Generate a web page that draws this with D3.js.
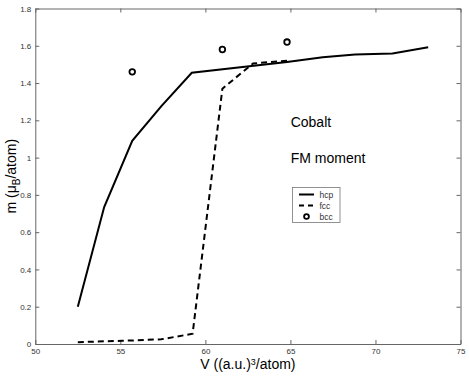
<!DOCTYPE html>
<html>
<head>
<meta charset="utf-8">
<script src="https://cdn.jsdelivr.net/npm/d3@7"></script>
<style>
  body { margin: 0; background: #fff; }
  text { font-family: "Liberation Sans", Arial, sans-serif; }
</style>
</head>
<body>
<div id="chart"></div>
<script>
/* DATA */
var hcpV = [52.5, 54.05, 55.7, 57.4, 59.2, 64.8, 66.9, 68.8, 71.0, 73.1];
var hcpM = [0.20, 0.735, 1.09, 1.275, 1.455, 1.513, 1.538, 1.553, 1.558, 1.592];

var fccV = [52.5, 55.1, 57.4, 59.25, 61.0, 62.8, 64.8];
var fccM = [0.01, 0.017, 0.025, 0.055, 1.37, 1.505, 1.52];

var bccV = [55.7, 61.0, 64.8];
var bccM = [1.46, 1.58, 1.62];

var xTicks = [50, 55, 60, 65, 70, 75];
var yTicks = [0, 0.2, 0.4, 0.6, 0.8, 1, 1.2, 1.4, 1.6, 1.8];

/* CONSTANTS */
var W = 469, H = 379;
var margin = {top: 8.5, left: 35.3, right: 8.5, bottom: 35};
var width = W - margin.left - margin.right,
    height = H - margin.top - margin.bottom;

var xScale = d3.scaleLinear().domain([50, 75]).range([0, width]);
var yScale = d3.scaleLinear().domain([0, 1.8]).range([height, 0]);

var svg = d3.select("#chart").append("svg")
  .attr("width", W)
  .attr("height", H);

var g = svg.append("g")
  .attr("transform", "translate(" + margin.left + "," + margin.top + ")");

var axisColor = "#666";

// axes (ticks pointing inward, like matlab)
var xAxis = g.append("g")
  .attr("transform", "translate(0," + height + ")")
  .call(d3.axisBottom(xScale).tickValues(xTicks).tickSizeInner(-4).tickSizeOuter(0).tickPadding(4));
var yAxis = g.append("g")
  .call(d3.axisLeft(yScale).tickValues(yTicks).tickSizeInner(-4).tickSizeOuter(0).tickPadding(4)
    .tickFormat(function(d) { return d3.format("~g")(d); }));
var xTop = g.append("g")
  .call(d3.axisTop(xScale).tickValues(xTicks).tickSizeInner(-4).tickSizeOuter(0).tickFormat(""));
var yRight = g.append("g")
  .attr("transform", "translate(" + width + ",0)")
  .call(d3.axisRight(yScale).tickValues(yTicks).tickSizeInner(-4).tickSizeOuter(0).tickFormat(""));

[xAxis, yAxis, xTop, yRight].forEach(function(a) {
  a.select(".domain").attr("stroke", axisColor).attr("stroke-width", 1);
  a.selectAll(".tick line").attr("stroke", axisColor);
  a.selectAll(".tick text").attr("fill", "#333").style("font-size", "8px")
    .style("font-family", "Liberation Sans, Arial, sans-serif");
});

// lines
var hcp = hcpV.map(function(v, i) { return [v, hcpM[i]]; });
var fcc = fccV.map(function(v, i) { return [v, fccM[i]]; });

var line = d3.line()
  .x(function(d) { return xScale(d[0]); })
  .y(function(d) { return yScale(d[1]); });

g.append("path")
  .datum(hcp)
  .attr("d", line)
  .attr("fill", "none")
  .attr("stroke", "#000")
  .attr("stroke-width", 2);

g.append("path")
  .datum(fcc)
  .attr("d", line)
  .attr("fill", "none")
  .attr("stroke", "#000")
  .attr("stroke-width", 2)
  .attr("stroke-dasharray", "6,4");

g.selectAll(".bcc")
  .data(bccV)
  .enter().append("circle")
  .attr("class", "bcc")
  .attr("cx", function(d) { return xScale(d); })
  .attr("cy", function(d, i) { return yScale(bccM[i]); })
  .attr("r", 2.8)
  .attr("fill", "none")
  .attr("stroke", "#000")
  .attr("stroke-width", 1.8);

// annotations
svg.append("text").attr("x", 290.7).attr("y", 126.7)
  .style("font-size", "14px").text("Cobalt");
svg.append("text").attr("x", 290.7).attr("y", 163)
  .style("font-size", "14px").text("FM moment");

// legend
var leg = svg.append("g");
leg.append("rect")
  .attr("x", 292.5).attr("y", 187.5).attr("width", 47.5).attr("height", 35)
  .attr("fill", "#fff").attr("stroke", "#777").attr("stroke-width", 0.8);
var legItems = ["hcp", "fcc", "bcc"];
legItems.forEach(function(name, i) {
  var y = 194.5 + i * 11;
  if (name === "bcc") {
    leg.append("circle").attr("cx", 306.5).attr("cy", y).attr("r", 2.4)
      .attr("fill", "none").attr("stroke", "#000").attr("stroke-width", 1.8);
  } else {
    leg.append("line").attr("x1", 299).attr("x2", 314).attr("y1", y).attr("y2", y)
      .attr("stroke", "#000").attr("stroke-width", 2)
      .attr("stroke-dasharray", name === "fcc" ? "5,4" : null);
  }
  leg.append("text").attr("x", 319.5).attr("y", y + 3)
    .attr("fill", "#333").style("font-size", "8.5px").text(name);
});

// axis labels
var xl = svg.append("text")
  .attr("x", margin.left + width / 2).attr("y", 369)
  .attr("text-anchor", "middle").style("font-size", "14px");
xl.append("tspan").text("V ((a.u.)");
xl.append("tspan").attr("dy", -4.5).style("font-size", "9px").text("3");
xl.append("tspan").attr("dy", 4.5).text("/atom)");

var yl = svg.append("text")
  .attr("transform", "translate(16," + (margin.top + height / 2) + ") rotate(-90)")
  .attr("text-anchor", "middle").style("font-size", "14px");
yl.append("tspan").text("m (\u03bc");
yl.append("tspan").attr("dy", 4).style("font-size", "10px").text("B");
yl.append("tspan").attr("dy", -4).text("/atom)");
</script>
</body>
</html>
